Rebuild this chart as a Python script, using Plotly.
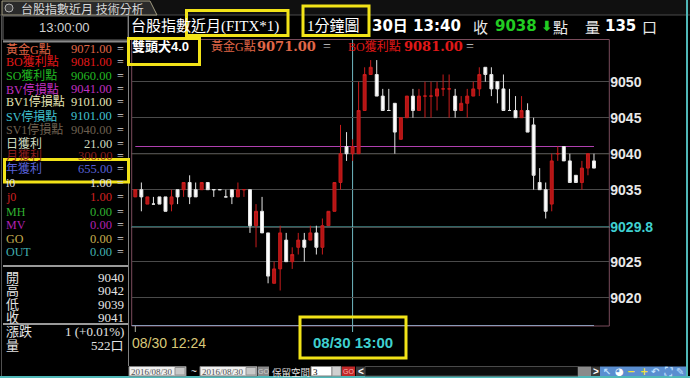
import plotly.graph_objects as go
import pandas as pd

W, H = 690, 378
def X(px): return px / W
def Y(py): return 1 - py / H

# ---------------- data ----------------
times = [t.strftime("%H:%M") for t in pd.date_range("2016-08-30 12:24", "2016-08-30 13:40", freq="1min")]
opens  = [9034, 9035, 9033, 9033, 9034, 9034, 9033, 9035, 9035, 9036, 9035, 9035, 9036, 9035, 9035, 9034, 9035, 9034, 9035, 9035,
          9030, 9032, 9029, 9022, 9024, 9028, 9025, 9027, 9028, 9028, 9029, 9027, 9030, 9032, 9036, 9041, 9040, 9040, 9046, 9051,
          9051, 9048, 9046, 9047, 9042, 9045, 9048, 9046, 9048, 9048, 9048, 9049, 9049, 9048, 9046, 9047, 9048, 9049, 9052, 9051,
          9050, 9049, 9046, 9046, 9045, 9046, 9044, 9036, 9035, 9033, 9040, 9041, 9039, 9037, 9036, 9038, 9039]
highs  = [9035, 9036, 9034, 9034, 9034, 9034, 9035, 9035, 9036, 9037, 9036, 9036, 9036, 9035, 9035, 9035, 9035, 9036, 9035, 9035,
          9033, 9034, 9029, 9025, 9030, 9029, 9027, 9029, 9029, 9030, 9030, 9031, 9032, 9036, 9044, 9043, 9042, 9050, 9052, 9053,
          9053, 9049, 9049, 9047, 9045, 9048, 9049, 9049, 9050, 9050, 9050, 9051, 9051, 9049, 9048, 9049, 9050, 9052, 9052, 9052,
          9050, 9051, 9049, 9048, 9048, 9047, 9045, 9038, 9036, 9040, 9041, 9041, 9040, 9037, 9039, 9040, 9040]
lows   = [9034, 9032, 9033, 9033, 9033, 9032, 9032, 9033, 9034, 9033, 9034, 9035, 9035, 9034, 9035, 9034, 9033, 9034, 9034, 9029,
          9027, 9029, 9022, 9022, 9021, 9025, 9024, 9026, 9025, 9028, 9026, 9026, 9030, 9032, 9035, 9039, 9039, 9040, 9046, 9051,
          9048, 9046, 9046, 9040, 9042, 9045, 9045, 9046, 9045, 9045, 9046, 9048, 9045, 9045, 9046, 9045, 9048, 9048, 9050, 9048,
          9047, 9046, 9046, 9045, 9045, 9043, 9035, 9035, 9031, 9032, 9039, 9039, 9036, 9036, 9035, 9037, 9038]
closes = [9035, 9034, 9034, 9033, 9033, 9032, 9034, 9034, 9036, 9034, 9034, 9036, 9035, 9035, 9035, 9034, 9034, 9035, 9035, 9030,
          9032, 9029, 9023, 9024, 9029, 9025, 9026, 9028, 9027, 9029, 9027, 9030, 9032, 9036, 9040, 9040, 9041, 9046, 9051, 9052,
          9048, 9046, 9046, 9043, 9045, 9048, 9046, 9048, 9048, 9048, 9049, 9049, 9049, 9046, 9047, 9048, 9049, 9051, 9051, 9049,
          9049, 9046, 9046, 9045, 9046, 9043, 9037, 9035, 9032, 9039, 9040, 9039, 9036, 9036, 9038, 9040, 9038]

y_ticks = [9020, 9025, 9029.8, 9035, 9040, 9045, 9050]
cursor_price = 9029.8
cursor_time = "13:00"
bv_stop = 9041
sv1_stop = 9040

panel_labels = ["黃金G點", "BO獲利點", "SO獲利點", "BV停損點", "BV1停損點", "SV停損點", "SV1停損點",
                "日獲利", "月獲利", "年獲利", "i0", "j0", "MH", "MV", "GO", "OUT"]
panel_values = ["9071.00", "9081.00", "9060.00", "9041.00", "9101.00", "9101.00", "9040.00",
                "21.00", "300.00", "655.00", "1.00", "1.00", "0.00", "0.00", "0.00", "0.00"]
panel_colors = ["#e06848", "#e01818", "#22b822", "#c030c0", "#e4e4b4", "#40c0d0", "#6e6050",
                "#d0dcc0", "#8a1e1e", "#5860d8", "#e0e0e0", "#d02020", "#30b030", "#b020b0", "#c8b050", "#40b0b0"]
panel_rows_y = [49, 62, 75.5, 89, 102, 116, 129.5, 143.5, 156, 169.5, 183, 197.5, 211.5, 225, 238.5, 252]

quote_labels = ["開", "高", "低", "收", "漲跌", "量"]
quote_values = ["9040", "9042", "9039", "9041", "1 (+0.01%)", "522口"]
quote_rows_y = [277, 290.5, 304, 317, 331.5, 345]

SERIF = "Liberation Serif, Noto Sans CJK TC"
SANS = "Liberation Sans, Noto Sans CJK TC"
DJ = "DejaVu Sans, Noto Sans CJK TC"
DJS = "DejaVu Serif"
CJK = "Noto Sans CJK TC"

# ---------------- figure ----------------
fig = go.Figure()
fig.add_trace(go.Candlestick(
    x=times, open=opens, high=highs, low=lows, close=closes,
    increasing=dict(line=dict(color="#c81c1c", width=1), fillcolor="#b41414"),
    decreasing=dict(line=dict(color="#e4e4e4", width=1), fillcolor="#ffffff"),
    whiskerwidth=0, showlegend=False, hoverinfo="skip"))

ann = []
def txt(x, y, s, color, size, family=SERIF, bold=False, anchor="left"):
    ann.append(dict(x=X(x), y=Y(y), xref="paper", yref="paper", text=s, showarrow=False,
                    xanchor=anchor, yanchor="middle", borderpad=0,
                    font=dict(family=family, size=size, color=color,
                              weight="bold" if bold else "normal")))

shapes = []
def rect(x0, y0, x1, y1, fill=None, line=None, lw=1, layer="above"):
    shapes.append(dict(type="rect", xref="paper", yref="paper", x0=X(x0), x1=X(x1), y0=Y(y0), y1=Y(y1),
                       fillcolor=fill if fill else "rgba(0,0,0,0)",
                       line=dict(color=line if line else "rgba(0,0,0,0)", width=lw if line else 0),
                       layer=layer))
def pline(x0, y0, x1, y1, color, lw=1, layer="above"):
    shapes.append(dict(type="line", xref="paper", yref="paper", x0=X(x0), x1=X(x1), y0=Y(y0), y1=Y(y1),
                       line=dict(color=color, width=lw), layer=layer))

# window chrome
rect(0, 0, 690, 15, fill="#101010", layer="below")
pline(0, 15, 690, 15, "#4a4a4a")
shapes.append(dict(type="path", xref="paper", yref="paper",
                   path=f"M {X(2)},{Y(15)} L {X(2)},{Y(1)} L {X(150)},{Y(1)} L {X(157)},{Y(15)} Z",
                   fillcolor="#2a2a2a", line=dict(color="#a09a80", width=1), layer="above"))
shapes.append(dict(type="circle", xref="paper", yref="paper", x0=X(5), x1=X(13), y0=Y(12), y1=Y(4),
                   fillcolor="#404040", line=dict(color="#b0b0b0", width=1)))
txt(20, 8, "台股指數近月 技術分析", "#d8d8d8", 12, family=CJK)
pline(687, 0, 687, 378, "#4fb8b8", 2)
pline(0, 377, 690, 377, "#4fb8b8", 2)
pline(1.5, 15, 1.5, 376, "#505050", 1)

# left panel
rect(3, 16, 128, 40, line="#6a6a6a")
txt(64, 27.5, "13:00:00", "#d0d0d0", 13, family="Liberation Sans", anchor="center")
pline(3, 41.5, 128, 41.5, "#8a8a8a", 2)
pline(128.5, 15, 128.5, 366, "#808080", 1)
for lab, val, col, yy in zip(panel_labels, panel_values, panel_colors, panel_rows_y):
    txt(5, yy, lab, col, 12, family=SERIF)
    txt(113, yy, val, col, 12.5, family=SERIF, anchor="right")
    txt(116, yy, "=", "#d8d8d8", 12, family=SERIF)
pline(3, 266, 128, 266, "#9a9a9a", 2)
pline(3, 324, 128, 324, "#9a9a9a", 2)
for lab, val, yy in zip(quote_labels, quote_values, quote_rows_y):
    txt(5, yy, lab, "#e4e4e4", 13, family=SERIF)
    txt(125, yy, val, "#e4e4e4", 13, family=SERIF, anchor="right")

# header
txt(130, 26, "台股指數近月(FITX*1)", "#ffffff", 15, family=SERIF)
txt(306, 26, "1分鐘圖", "#ffffff", 15, family=SERIF)
txt(371, 26, "30日 13:40", "#ffffff", 15, family=DJ, bold=True)
txt(472, 27, "收", "#e8e8e8", 15, family=CJK)
txt(494, 26, "9038", "#22cc22", 15, family=DJ, bold=True)
txt(540, 26, "⬇", "#22cc22", 14, family="DejaVu Sans", bold=True)
txt(552, 27, "點", "#e8e8e8", 15, family=CJK)
txt(584, 27, "量", "#e8e8e8", 15, family=CJK)
txt(604, 26, "135", "#ffffff", 15, family=DJ, bold=True)
txt(641, 27, "口", "#e8e8e8", 15, family=CJK)

txt(131, 47, "雙頭犬4.0", "#ffffff", 13, family=SANS, bold=True)
txt(210, 47, "黃金G點", "#e06848", 12, family=SERIF)
txt(256, 47, "9071.00", "#e06848", 13, family=DJS, bold=True)
txt(322, 47, "=", "#d0d0d0", 14, family=SERIF)
txt(347, 47, "BO獲利點", "#e01818", 12, family=SERIF)
txt(403, 47, "9081.00", "#e01818", 13, family=DJS, bold=True)
txt(465, 47, "=", "#d0d0d0", 14, family=SERIF)

# chart frame and reference lines
PL, PR, PT, PB = 131.7, 609.3, 39.5, 326
rect(PL, PT, PR, PB, line="#7a4c5c", layer="below")
shapes.append(dict(type="line", xref="paper", yref="y", x0=X(PL), x1=X(PR), y0=sv1_stop, y1=sv1_stop,
                   line=dict(color="#8a8262", width=1), layer="below"))
shapes.append(dict(type="line", xref="x", yref="y", x0=times[0], x1=times[-1], y0=bv_stop, y1=bv_stop,
                   line=dict(color="#b040b0", width=1), layer="below"))
shapes.append(dict(type="line", xref="paper", yref="y", x0=X(PL), x1=X(PR), y0=cursor_price, y1=cursor_price,
                   line=dict(color="#5ec8c8", width=1.5), layer="below"))
shapes.append(dict(type="line", xref="x", yref="paper", x0=cursor_time, x1=cursor_time, y0=Y(332), y1=Y(PT),
                   line=dict(color="#6fb8c0", width=1), layer="below"))
shapes.append(dict(type="line", xref="x", yref="paper", x0=times[0], x1=times[0], y0=Y(332), y1=Y(PB),
                   line=dict(color="#b0b0a0", width=1), layer="below"))
pline(PL, PB - 0.5, 594, PB - 0.5, "#8a9ab8", 1, layer="below")

ann.append(dict(x=times[0], y=Y(343), xref="x", yref="paper", text="08/30 " + times[0], showarrow=False,
                xanchor="left", yanchor="middle", xshift=-5,
                font=dict(family="Liberation Sans", size=14, color="#d8c878")))
ann.append(dict(x=cursor_time, y=Y(342), xref="x", yref="paper", text="08/30 " + cursor_time, showarrow=False,
                xanchor="center", yanchor="middle",
                font=dict(family="Liberation Sans", size=15, color="#3fd0d0", weight="bold")))

# yellow highlight boxes
YEL = "#f2e318"
rect(186.5, 10.5, 288, 35.5, line=YEL, lw=3)
rect(303, 6, 369, 35.5, line=YEL, lw=3)
rect(128.5, 38.5, 199.5, 64.5, line=YEL, lw=3)
rect(4.5, 159.5, 128.5, 182, line=YEL, lw=3)
rect(300, 317, 406, 358, line=YEL, lw=3)

# bottom toolbar
TY0, TY1, TYC = 366.5, 376, 371.5
for bx0, bx1 in [(129, 186), (200, 257)]:
    rect(bx0, TY0, bx1, TY1, fill="#f0f0f0", line="#808080")
    rect(bx1 - 11, TY0 + 1, bx1 - 1, TY1 - 1, fill="#c8c8c8", line="#909090")
    txt(bx0 + 1, TYC, "2016/08/30", "#505050", 9, family="Liberation Serif")
txt(190, TYC, "~", "#e0e0e0", 10, family="Liberation Sans")
rect(258, TY0, 269, TY1, fill="#8a8a8a")
txt(263.5, TYC, "GO", "#d0d0d0", 7, family="Liberation Sans", anchor="center")
txt(271, TYC, "保留空間", "#e0e0e0", 9.5, family=CJK)
rect(311, TY0, 332, TY1, fill="#ffffff", line="#808080")
txt(312, TYC, "3", "#000000", 9, family="Liberation Serif")
rect(332, TY0, 341, TY1, fill="#d0d0d0", line="#909090")
rect(342, TY0, 355, TY1, fill="#c02828")
txt(348.5, TYC, "GO", "#ffb0b0", 7, family="Liberation Sans", anchor="center")
rect(356, TY0, 365, TY1, fill="#3a3a3a")
txt(360.5, TYC, "<", "#ffffff", 10, family="Liberation Sans", bold=True, anchor="center")
rect(365, TY0, 578, TY1, fill="#0c0c0c", line="#4a4a4a")
rect(578, TY0, 591, TY1, fill="#8a8a8a")
rect(591, TY0, 600, TY1, fill="#3a3a3a")
txt(595.5, TYC, ">", "#ffffff", 10, family="Liberation Sans", bold=True, anchor="center")
rect(600, TY0, 686, TY1, fill="#5a8ed0")
icons = [("↖", "#bfe0ff"), ("◕", "#ffffff"), ("−", "#f0e040"), ("+", "#f0e040"), ("↶", "#bfe0ff"), ("⛶", "#bfe0ff"), ("✎", "#bfe0ff")]
for i, (g, c) in enumerate(icons):
    txt(607 + i * 12.2, TYC, g, c, 10, family="DejaVu Sans", bold=True, anchor="center")

ticktext = [f"<span style='color:#3fd0d0'>{v:g}</span>" if v == cursor_price else f"{v:g}" for v in y_ticks]

fig.update_layout(
    width=W, height=H, margin=dict(l=0, r=0, t=0, b=0),
    paper_bgcolor="#000000", plot_bgcolor="rgba(0,0,0,0)",
    showlegend=False, shapes=shapes, annotations=ann,
    xaxis=dict(domain=[X(PL), X(PR)], type="category", range=[-0.6, 78.54],
               showgrid=False, showticklabels=False, zeroline=False, showline=False,
               rangeslider=dict(visible=False), fixedrange=True),
    yaxis=dict(domain=[Y(PB), Y(PT)], range=[9016.07, 9055.86], side="right",
               tickvals=y_ticks, ticktext=ticktext, showgrid=True, gridcolor="#4a4a4a", gridwidth=1,
               zeroline=False, showline=False, ticks="",
               tickfont=dict(family="Liberation Sans", size=14, color="#e8e8e8", weight="bold"),
               fixedrange=True),
)
fig.write_html("out.html")
